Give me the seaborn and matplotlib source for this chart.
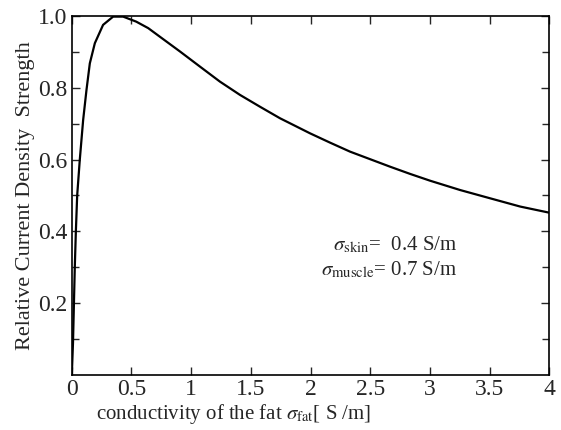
import numpy as np
import matplotlib.pyplot as plt
import seaborn as sns
import pandas as pd

# conductivity of the fat [S/m]
sigma_fat = [0.0, 0.01, 0.025, 0.034, 0.045, 0.067, 0.095, 0.123, 0.151, 0.193, 0.262,
             0.346, 0.43, 0.54, 0.64, 0.738, 0.906, 1.073, 1.241, 1.409, 1.577, 1.744,
             1.828, 1.996, 2.164, 2.331, 2.499, 2.667, 2.834, 3.002, 3.254, 3.505,
             3.757, 4.0]
# relative current density strength
rel_strength = [0.0, 0.09, 0.30, 0.40, 0.50, 0.60, 0.71, 0.794, 0.868, 0.924, 0.975,
                0.998, 0.998, 0.984, 0.966, 0.942, 0.901, 0.859, 0.817, 0.780, 0.747, 0.715,
                0.701, 0.673, 0.647, 0.622, 0.601, 0.580, 0.560, 0.541, 0.515, 0.492,
                0.469, 0.452]

x_ticks = [0, 0.5, 1, 1.5, 2, 2.5, 3, 3.5, 4]
x_labels = ['0', '0.5', '1', '1.5', '2', '2.5', '3', '3.5', '4']
y_ticks = [0.2, 0.4, 0.6, 0.8, 1.0]
y_labels = ['0.2', '0.4', '0.6', '0.8', '1.0']

sns.set_style('ticks')
plt.rcParams['font.family'] = ['Liberation Serif', 'DejaVu Serif']
plt.rcParams['mathtext.fontset'] = 'stix'

df = pd.DataFrame({'x': sigma_fat, 'y': rel_strength})

fig = plt.figure(figsize=(5.61, 4.30), dpi=100)
ax = fig.add_axes([0.128, 0.128, 0.851, 0.835])
sns.lineplot(data=df, x='x', y='y', color='black', linewidth=1.6, ax=ax)

ax.set_xlim(0, 4)
ax.set_ylim(0, 1.0)
ax.set_xticks(x_ticks)
ax.set_xticklabels(x_labels)
ax.set_yticks(y_ticks)
ax.set_yticklabels(y_labels)
ax.set_yticks(np.arange(0.1, 1.0, 0.2), minor=True)
ax.tick_params(which='both', direction='in', top=True, right=True, labelsize=17, width=1)
ax.tick_params(which='major', length=6, pad=3)
ax.tick_params(which='minor', length=5)
for s in ax.spines.values():
    s.set_linewidth(1.2)
    s.set_color('black')

ax.set_xlabel(r'conductivity of the fat $\sigma_{\rm fat}$[ S /m]', fontsize=15, labelpad=1)
ax.xaxis.set_label_coords(0.338, -0.075)
ax.set_ylabel('Relative Current Density  Strength', fontsize=16, labelpad=2)

ax.text(3.23, 0.362, r'$\sigma_{\rm skin}$=  0.4 S/m', fontsize=15, ha='right', va='center')
ax.text(3.23, 0.293, r'$\sigma_{\rm muscle}$= 0.7 S/m', fontsize=15, ha='right', va='center')

fig.savefig('out.png', dpi=100)
